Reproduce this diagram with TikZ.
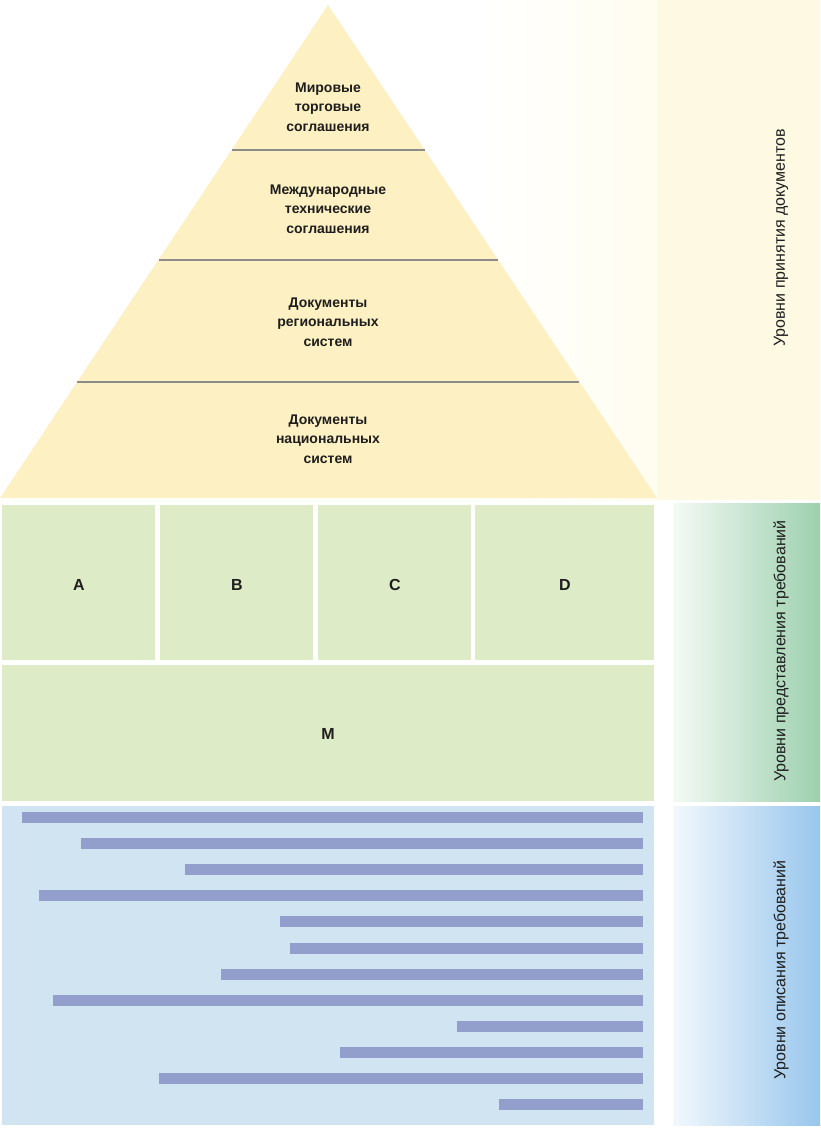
\documentclass[tikz,border=0pt]{standalone}
\usepackage{fontspec}
\setmainfont{Liberation Sans}
\usepackage{xcolor}
\definecolor{pyryellow}{HTML}{FDF0C2}
\definecolor{panelyellow}{HTML}{FEF9E2}
\definecolor{creamfade}{HTML}{FFFDEF}
\definecolor{reqgreen}{HTML}{DDEBC6}
\definecolor{sidegreenL}{HTML}{F4FAF5}
\definecolor{sidegreenR}{HTML}{9DD0AE}
\definecolor{descblue}{HTML}{D0E4F2}
\definecolor{sideblueL}{HTML}{F2F8FD}
\definecolor{sideblueR}{HTML}{98C6EC}
\definecolor{barblue}{HTML}{929FCC}
\definecolor{tierline}{HTML}{8C8C8C}
\definecolor{darktext}{HTML}{1E1E1E}
\usepackage{tikz}
\usetikzlibrary{positioning}

\begin{document}
\begin{tikzpicture}[x=1pt, y=-1pt,
    tierlabel/.style={align=center, text=darktext, font=\fontsize{14}{19.5}\selectfont\bfseries},
    boxlabel/.style={text=darktext, font=\fontsize{16}{18}\selectfont\bfseries},
    sidelabel/.style={rotate=90, text=darktext, font=\fontsize{16}{18}\selectfont}]
    \useasboundingbox (0,0) rectangle (820,1129);

    % right-hand panels
    \shade[left color=white, right color=creamfade] (480,0) rectangle (657,500);
    \fill[panelyellow] (657,0) rectangle (820,500);
    \shade[left color=sidegreenL, right color=sidegreenR] (673,503) rectangle (820,801);
    \shade[left color=sideblueL, right color=sideblueR] (673,806) rectangle (820,1125);
    \node[sidelabel] (adopt) at (781,238) {Уровни принятия документов};
    \node[sidelabel] (present) at (781,651) {Уровни представления требований};
    \node[sidelabel] (describe) at (781,970) {Уровни описания требований};

    % pyramid
    \fill[pyryellow] (328,5) -- (657,498) -- (0,498) -- cycle;
    \draw[tierline, line width=1.5pt] (232,150) -- (425,150);
    \draw[tierline, line width=1.5pt] (159,260) -- (498,260);
    \draw[tierline, line width=1.5pt] (77,382) -- (579,382);
    \node[tierlabel] (world) at (328,107) {Мировые\\торговые\\соглашения};
    \node[tierlabel] (intl) at (328,209) {Международные\\технические\\соглашения};
    \node[tierlabel] (region) at (328,322) {Документы\\региональных\\систем};
    \node[tierlabel] (nation) at (328,439) {Документы\\национальных\\систем};

    % requirement levels
    \fill[reqgreen] (2,505) rectangle (155,660);
    \fill[reqgreen] (160,505) rectangle (313,660);
    \fill[reqgreen] (318,505) rectangle (471,660);
    \fill[reqgreen] (475,505) rectangle (654,660);
    \fill[reqgreen] (2,665) rectangle (654,801);
    \node[boxlabel] (lvlA) at (79,585) {A};
    \node[boxlabel] (lvlB) at (237,585) {B};
    \node[boxlabel] (lvlC) at (395,585) {C};
    \node[boxlabel] (lvlD) at (565,585) {D};
    \node[boxlabel] (lvlM) at (328,734) {M};

    % description levels
    \fill[descblue] (2,806) rectangle (654,1125);
    \foreach \xl [count=\i] in {22,81,185,39,280,290,221,53,457,340,159,499}
        \fill[barblue] (\xl,{812+(\i-1)*26.1}) rectangle (643,{823+(\i-1)*26.1});
\end{tikzpicture}
\end{document}
